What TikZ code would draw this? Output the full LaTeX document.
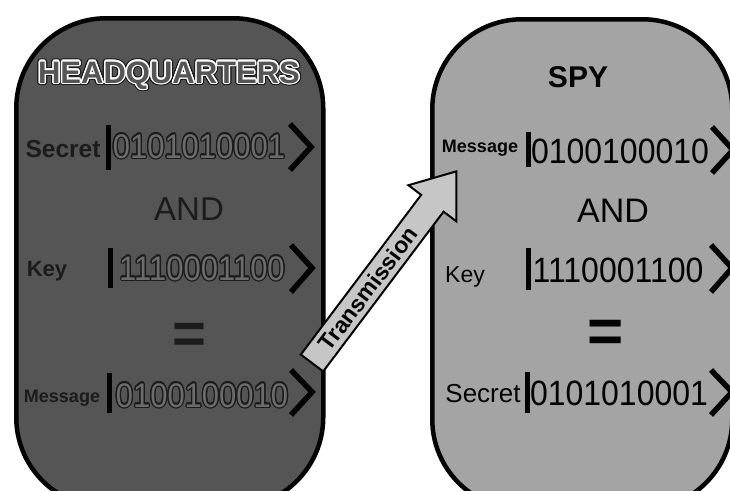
\documentclass[tikz,border=0pt]{standalone}
\usepackage{fontspec}
\usepackage{graphicx}
\setmainfont{Liberation Sans}
\usetikzlibrary{calc}
\definecolor{hqgray}{HTML}{555555}
\definecolor{spygray}{HTML}{A4A4A4}
\definecolor{arrowgray}{HTML}{C6C6C6}
\definecolor{digitfill}{HTML}{6C6C6C}
\definecolor{ink}{HTML}{030303}
\definecolor{darkink}{HTML}{1C1C1C}
\definecolor{halowhite}{HTML}{FCFCFC}
\tikzset{
  panel/.style={draw=ink, line width=4.5pt, rounded corners=90pt, anchor=north west, inner sep=0pt},
  bitsL/.style={font=\fontsize{31}{31}\selectfont, anchor=base, inner sep=0pt},
  bitsR/.style={font=\fontsize{32}{32}\selectfont, anchor=base, inner sep=0pt, text=ink},
  lbl/.style={anchor=base, inner sep=0pt, text=ink},
  lblL/.style={anchor=base, inner sep=0pt, text=darkink},
  title/.style={font=\bfseries\fontsize{31}{31}\selectfont, anchor=base, inner sep=0pt},
  ketbar/.style={line width=5pt, draw=ink},
  ketend/.style={line width=5.5pt, line join=miter, draw=ink},
  word/.style={font=\fontsize{33}{33}\selectfont, anchor=base, inner sep=0pt, text=ink},
  eq/.style={font=\bfseries\fontsize{58}{58}\selectfont, anchor=base, inner sep=0pt, text=ink},
}
\newcommand\ring[4]{%
  \foreach \ang in {0,30,...,330}{\node[#2] at ($(#1)+(\ang:#4)$) {#3};}}
\newcommand\tall[1]{\scalebox{1}[1.1]{#1}}
\begin{document}
\begin{tikzpicture}[x=1pt,y=-1pt]
\useasboundingbox (0,0) rectangle (730,490);
\clip (0,0) rectangle (730,490);
% panels
\node[panel, fill=hqgray, minimum width=307pt, minimum height=489pt] (hq) at (14,16) {};
\node[panel, fill=spygray, minimum width=300pt, minimum height=490pt] (spy) at (430,17) {};

% ---------- HEADQUARTERS panel ----------
\ring{169,83}{title,text=darkink}{HEADQUARTERS}{2.8pt}
\ring{169,83}{title,text=halowhite}{HEADQUARTERS}{1.5pt}
\node[title,text=hqgray] (hqt) at (169,83) {HEADQUARTERS};

\node[lblL,font=\bfseries\fontsize{24.5}{24.5}\selectfont] (hqsl) at (63,157) {Secret};
\draw[ketbar] (108,125) -- (108,170);
\ring{199,158}{bitsL,text=darkink}{\tall{0101010001}}{1.4pt}
\node[bitsL,text=digitfill] (hqs) at (199,158) {\tall{0101010001}};
\draw[ketend] (290,124) -- (311,147) -- (290,170);

\node[lblL,font=\fontsize{33}{33}\selectfont] (hqand) at (189,220) {AND};

\node[lblL,font=\bfseries\fontsize{22}{22}\selectfont] (hqkl) at (47,276) {Key};
\draw[ketbar] (110,248) -- (110,288);
\ring{202,280}{bitsL,text=darkink}{\tall{1110001100}}{1.4pt}
\node[bitsL,text=digitfill] (hqk) at (202,280) {\tall{1110001100}};
\draw[ketend] (291,245) -- (312,268) -- (291,292);

\node[lblL,font=\bfseries\fontsize{58}{58}\selectfont] (hqeq) at (189,353) {=};

\node[lblL,font=\bfseries\fontsize{18}{18}\selectfont] (hqml) at (62,402) {Message};
\draw[ketbar] (109,373) -- (109,413);
\ring{202,407}{bitsL,text=darkink}{\tall{0100100010}}{1.4pt}
\node[bitsL,text=digitfill] (hqm) at (202,407) {\tall{0100100010}};
\draw[ketend] (291,370) -- (312,392) -- (291,415);

% ---------- SPY ----------
\node[title,font=\bfseries\fontsize{30}{30}\selectfont,text=ink] (spyt) at (578,87) {SPY};

\node[lbl,font=\bfseries\fontsize{18}{18}\selectfont] (spml) at (480,152) {Message};
\draw[ketbar] (528,132) -- (528,167);
\node[bitsR] (spm) at (620,163) {\tall{0100100010}};
\draw[ketend] (712,127) -- (733,150) -- (712,173);

\node[word,font=\fontsize{34}{34}\selectfont] (spand) at (613,222) {AND};

\node[lbl,font=\fontsize{23}{23}\selectfont] (spkl) at (465,282) {Key};
\draw[ketbar] (528,248) -- (528,290);
\node[bitsR] (spk) at (618,282) {\tall{1110001100}};
\draw[ketend] (711,245) -- (732,268) -- (711,292);

\node[eq,font=\bfseries\fontsize{62}{62}\selectfont] (speq) at (606,352) {=};

\node[lbl,font=\fontsize{26}{26}\selectfont] (spsl) at (483,402) {Secret};
\draw[ketbar] (527,372) -- (527,413);
\node[bitsR] (sps) at (619,405) {\tall{0101010001}};
\draw[ketend] (711,370) -- (732,392) -- (711,415);

% ---------- arrow ----------
\begin{scope}[shift={(312,363)}, rotate=53]
  \draw[fill=arrowgray, draw=ink, line width=2pt, line join=miter]
    (0,-14) -- (200,-14) -- (200,-30) -- (240,0) -- (200,30) -- (200,14) -- (0,14) -- cycle;
  \node[rotate=53, font=\bfseries\fontsize{23}{23}\selectfont, inner sep=0pt, text=ink] (tx) at (93,0) {Transmission};
\end{scope}
\end{tikzpicture}
\end{document}
